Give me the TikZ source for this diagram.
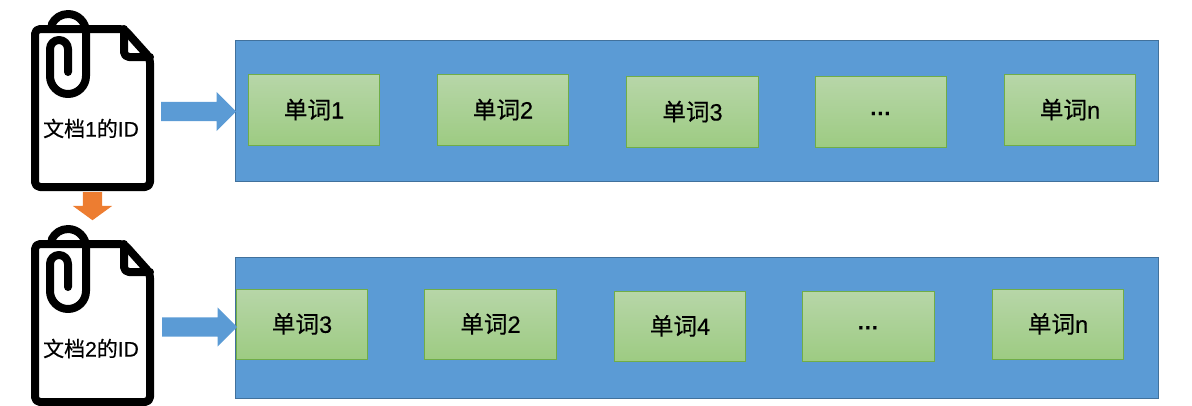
\documentclass[tikz,border=0pt]{standalone}
\usepackage{fontspec}
\setmainfont[RawFeature={embolden=0.4}]{Liberation Sans}
\newfontfamily\cjk[RawFeature={embolden=0.4}]{Noto Sans CJK SC}
\usetikzlibrary{positioning,shapes.arrows}
\definecolor{panelblue}{RGB}{91,155,213}
\definecolor{panelline}{RGB}{65,113,156}
\definecolor{wordtop}{RGB}{183,214,168}
\definecolor{wordbot}{RGB}{157,203,130}
\definecolor{wordline}{RGB}{112,173,71}
\definecolor{downorange}{RGB}{237,125,49}

% page icon with its clip, y is the vertical offset of the icon
\newcommand{\docicon}[1]{
  \begin{scope}[yshift=-#1pt, line width=8pt, line join=round, line cap=round]
    \draw [fill=white, rounded corners=5pt] (35,29) -- (124,29) -- (150,58) -- (150,187) -- (35,187) -- cycle;
    \draw [rounded corners=5pt] (124,29) -- (124,57) -- (150,57);
    \draw (68,72) -- (68,49) arc [start angle=0, end angle=180, radius=9pt] -- (50,76)
      arc [start angle=180, end angle=360, radius=18pt] -- (86,32)
      arc [start angle=0, end angle=155, radius=18pt];
  \end{scope}
}

\begin{document}
\begin{tikzpicture}[
    x=1pt,
    y=-1pt,
    node distance=57pt,
    font=\fontsize{23.6}{27}\selectfont,
    panel/.style={
		rectangle,
		draw=panelline,
		line width=0.6pt,
		fill=panelblue,
		minimum width=923pt,
		minimum height=141pt
	},
    wordbox/.style={
		rectangle,
		draw=wordline,
		line width=1pt,
		top color=wordtop,
		bottom color=wordbot,
		minimum width=131.5pt,
		minimum height=70.5pt,
		text height=20pt,
		text depth=3pt,
		inner sep=0pt,
		outer sep=0pt
	},
    doclabel/.style={
		font=\fontsize{21}{24}\selectfont,
		inner sep=0pt
	},
    blockarrow/.style={
		single arrow,
		anchor=tail,
		fill=panelblue,
		inner sep=0pt,
		text height=19pt,
		text depth=0pt,
		text width=0pt,
		minimum width=39pt,
		minimum height=75pt,
		single arrow head extend=10pt
	}
  ]
  \useasboundingbox (0,0) rectangle (1192,405);

  % the two panels
  \node [panel] (panel1) at (697,110.5) {};
  \node [panel] (panel2) at (697,327.5) {};

  % words of the first document
  \node [wordbox] (word1) at (314,110) {{\cjk 单词}1};
  \node [wordbox, right=57.5pt of word1] (word2) {{\cjk 单词}2};
  \node [wordbox, right=58pt of word2, yshift=-2pt] (word3) {{\cjk 单词}3};
  \node [wordbox, right=57pt of word3] (word4) {\fontsize{21}{23}\selectfont\textbf{···}};
  \node [wordbox, right=57.5pt of word4, yshift=2pt] (word5) {{\cjk 单词}n};

  % words of the second document
  \node [wordbox] (word6) at (302,324.3) {{\cjk 单词}3};
  \node [wordbox, right=57pt of word6] (word7) {{\cjk 单词}2};
  \node [wordbox, right=58pt of word7, yshift=-2pt] (word8) {{\cjk 单词}4};
  \node [wordbox, right=57pt of word8] (word9) {\fontsize{21}{23}\selectfont\textbf{···}};
  \node [wordbox, right=58pt of word9, yshift=2pt] (word10) {{\cjk 单词}n};

  % the documents
  \docicon{0}
  \docicon{215}
  \node [doclabel] (doc1) at (91,128.5) {{\cjk 文档}1{\cjk 的}ID};
  \node [doclabel] (doc2) at (91,348.5) {{\cjk 文档}2{\cjk 的}ID};

  % block arrows
  \node [blockarrow] (arrow1) at (161,111.5) {};
  \node [blockarrow] (arrow2) at (162,327) {};
  \node [blockarrow, fill=downorange, rotate=-90, minimum height=28pt, single arrow tip angle=108] (arrow3) at (92.5,192) {};
\end{tikzpicture}
\end{document}
